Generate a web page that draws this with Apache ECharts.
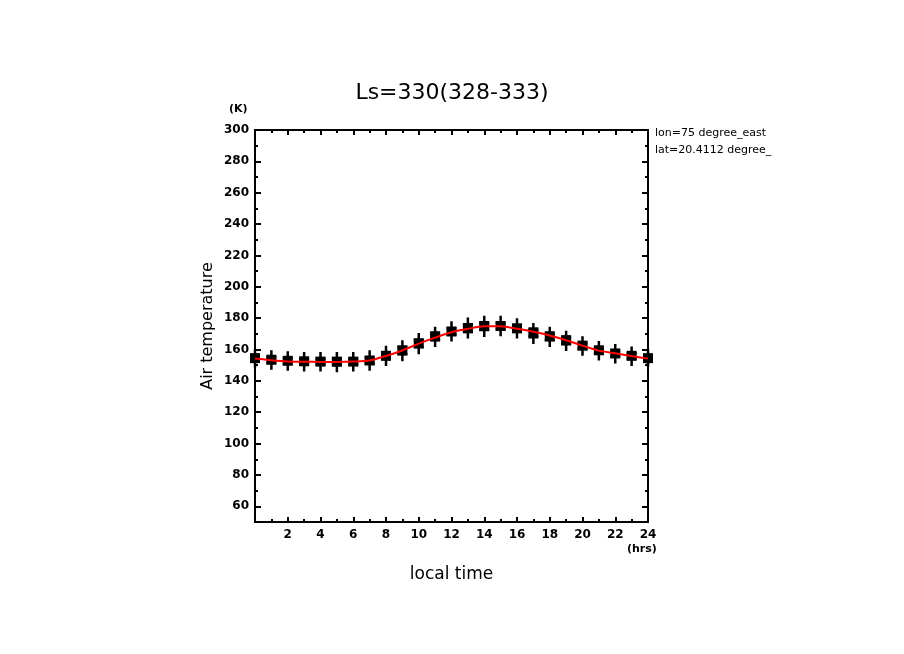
<!DOCTYPE html>
<html>
<head>
<meta charset="utf-8">
<script src="https://cdn.jsdelivr.net/npm/echarts@6/dist/echarts.min.js"></script>
<style>
  html, body { margin: 0; padding: 0; background: #fff; }
  #chart { width: 904px; height: 654px; }
</style>
</head>
<body>
<div id="chart"></div>
<script>
// local time (hrs)
var hours = [0,1,2,3,4,5,6,7,8,9,10,11,12,13,14,15,16,17,18,19,20,21,22,23,24];
// hourly mean air temperature (K), squares
var meanTemp = [154.5,153.5,152.8,152.5,152.3,152.3,152.3,153.0,156.0,159.5,164.0,168.5,171.5,173.5,175.0,175.0,173.5,171.0,168.5,166.0,162.5,159.5,157.5,156.0,154.5];
// individual samples (crosses)
var sampleHigh = [155.5,155.0,154.5,154.0,154.0,154.0,154.0,155.0,158.0,161.5,166.0,170.0,173.5,176.0,177.0,177.0,175.5,172.5,170.0,167.5,164.0,161.0,159.0,157.5,155.5];
var sampleLow = [153.0,151.5,151.0,150.5,150.5,150.0,150.5,151.0,154.0,157.0,161.5,166.0,169.5,171.5,172.5,173.0,171.5,168.0,166.0,163.5,160.5,157.5,155.5,154.0,153.5];
// fitted diurnal curve (red)
var fitTemp = [154.3,153.2,152.4,152.2,152.1,152.1,152.3,153.0,155.9,159.4,163.8,167.6,171.0,173.2,174.8,174.8,173.2,171.3,168.9,165.9,162.5,159.3,157.6,155.8,154.2];

var yMajor = [60,80,100,120,140,160,180,200,220,240,260,280,300];
var yMinor = [50,70,90,110,130,150,170,190,210,230,250,270,290];
var xMajor = [0,2,4,6,8,10,12,14,16,18,20,22,24];
var xLabels = [2,4,6,8,10,12,14,16,18,20,22,24];
var xMinor = [1,3,5,7,9,11,13,15,17,19,21,23];

function pairs(ys) {
  return hours.map(function (h, i) { return [h, ys[i]]; });
}

var lblFont = { color: '#000', fontFamily: 'DejaVu Sans', fontWeight: 'bold', fontSize: 12 };
var plus = 'path://M-1,-5 L1,-5 L1,-1 L4,-1 L4,1 L1,1 L1,5 L-1,5 L-1,1 L-4,1 L-4,-1 L-1,-1 Z';

function yAx(pos, ticks, len, labels, extra) {
  var a = {
    type: 'value', min: 50, max: 300, position: pos,
    axisLine: { show: true, onZero: false, lineStyle: { color: '#000', width: 2 } },
    axisTick: { show: true, inside: true, length: len, customValues: ticks, lineStyle: { color: '#000', width: 2 } },
    axisLabel: labels ? Object.assign({ customValues: yMajor, margin: 6 }, lblFont) : { show: false },
    splitLine: { show: false }
  };
  return Object.assign(a, extra || {});
}
function xAx(pos, ticks, len, labels, extra) {
  var a = {
    type: 'value', min: 0, max: 24, position: pos,
    axisLine: { show: true, onZero: false, lineStyle: { color: '#000', width: 2 } },
    axisTick: { show: true, inside: true, length: len, customValues: ticks, lineStyle: { color: '#000', width: 2 } },
    axisLabel: labels ? Object.assign({ customValues: xLabels, margin: 7 }, lblFont) : { show: false },
    splitLine: { show: false }
  };
  return Object.assign(a, extra || {});
}

var option = {
  backgroundColor: '#fff',
  animation: false,
  title: {
    text: 'Ls=330(328-333)',
    left: 'center', top: 77,
    textStyle: { fontFamily: 'DejaVu Sans', fontWeight: 'normal', fontSize: 22, color: '#000' }
  },
  grid: { left: 255, right: 256, top: 130, bottom: 132 },
  xAxis: [
    xAx('bottom', xMajor, 5, true, {
      name: 'local time', nameLocation: 'middle', nameGap: 44,
      nameTextStyle: { fontFamily: 'DejaVu Sans', fontSize: 17, color: '#000' }
    }),
    xAx('bottom', xMinor, 3, false),
    xAx('top', xMajor, 5, false),
    xAx('top', xMinor, 3, false)
  ],
  yAxis: [
    yAx('left', yMajor, 6, true, {
      name: 'Air temperature', nameLocation: 'middle', nameGap: 39,
      nameTextStyle: { fontFamily: 'DejaVu Sans', fontSize: 16, color: '#000' }
    }),
    yAx('left', yMinor, 3, false),
    yAx('right', yMajor, 6, false),
    yAx('right', yMinor, 3, false)
  ],
  series: [
    {
      type: 'scatter', data: pairs(sampleHigh), symbol: plus, symbolSize: [10, 14],
      itemStyle: { color: '#000', opacity: 1 }, z: 2
    },
    {
      type: 'scatter', data: pairs(sampleLow), symbol: plus, symbolSize: [10, 14],
      itemStyle: { color: '#000', opacity: 1 }, z: 2
    },
    {
      type: 'scatter', data: pairs(meanTemp), symbol: 'rect', symbolSize: 10,
      itemStyle: { color: '#000', opacity: 1 }, z: 3
    },
    {
      type: 'line', data: pairs(fitTemp), smooth: 0.3, showSymbol: false,
      lineStyle: { color: '#ff0000', width: 2 }, z: 4
    }
  ],
  graphic: [
    { type: 'text', left: 229, top: 104, style: { text: '(K)', font: 'bold 11px "DejaVu Sans"', fill: '#000' } },
    { type: 'text', left: 627, top: 544, style: { text: '(hrs)', font: 'bold 11px "DejaVu Sans"', fill: '#000' } },
    { type: 'text', left: 655, top: 128, style: { text: 'lon=75 degree_east', font: '11px "DejaVu Sans"', fill: '#000' } },
    { type: 'text', left: 655, top: 145, style: { text: 'lat=20.4112 degree_', font: '11px "DejaVu Sans"', fill: '#000' } }
  ]
};

var chart = echarts.init(document.getElementById('chart'));
chart.setOption(option);
</script>
</body>
</html>
